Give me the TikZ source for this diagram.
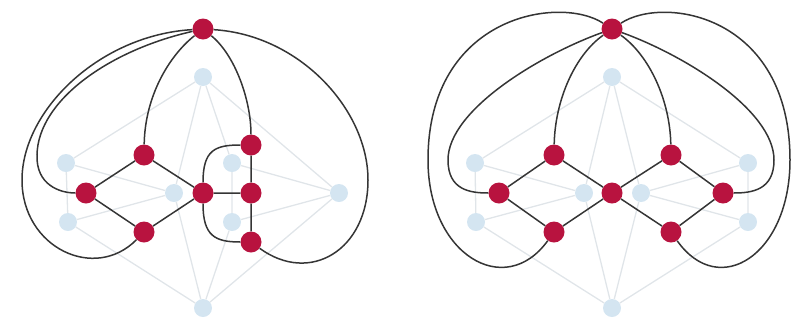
\documentclass[tikz,border=0pt]{standalone}
\begin{document}
\begin{tikzpicture}[x=1pt,y=-1pt,
  rv/.style={circle,fill=crimson,minimum size=21pt,inner sep=0pt},
  bv/.style={circle,fill=paleblue,minimum size=18pt,inner sep=0pt},
  le/.style={draw=lightedge,line width=1.3pt},
  de/.style={draw=darkedge,line width=1.5pt}]
\definecolor{crimson}{HTML}{B8133F}
\definecolor{paleblue}{HTML}{D4E5F1}
\definecolor{lightedge}{HTML}{E0E5E9}
\definecolor{darkedge}{HTML}{353535}
\useasboundingbox (0,0) rectangle (793,325);
% ---------- left: light graph ----------
\node[bv] (ltop) at (203,77) {};
\node[bv] (lbot) at (203,308) {};
\node[bv] (llu) at (66,163) {};
\node[bv] (lll) at (68,222) {};
\node[bv] (lce) at (174,193) {};
\node[bv] (lru) at (232,163) {};
\node[bv] (lrl) at (232,222) {};
\node[bv] (lr) at (339,193) {};
\path[le] (ltop)--(llu) (ltop)--(lce) (ltop)--(lru) (ltop)--(lr)
  (llu)--(lll) (llu)--(lce) (lll)--(lce) (lll)--(lbot) (lce)--(lbot)
  (lru)--(lrl) (lru)--(lr) (lrl)--(lr) (lrl)--(lbot) (lr)--(lbot);
% ---------- left: dual ----------
\node[rv] (lT) at (203,29) {};
\node[rv] (lA) at (144,155) {};
\node[rv] (lB) at (86,193) {};
\node[rv] (lC) at (144,232) {};
\node[rv] (lD) at (203,193) {};
\node[rv] (lE) at (251,145) {};
\node[rv] (lF) at (251,193) {};
\node[rv] (lG) at (251,242) {};
\path[de] (lA)--(lB) (lB)--(lC) (lA)--(lD) (lC)--(lD) (lD)--(lF) (lE)--(lF) (lF)--(lG);
\path[de] (lT) .. controls (170,55) and (145,95) .. (lA);
\path[de] (lT) .. controls (235,55) and (251,100) .. (lE);
\path[de] (lT) .. controls (110,50) and (38,100) .. (37,155) .. controls (36,185) and (60,193) .. (lB);
\path[de] (lT) .. controls (100,35) and (22,110) .. (22,180) .. controls (22,248) and (95,282) .. (lC);
\path[de] (lT) .. controls (300,35) and (368,110) .. (368,180) .. controls (368,250) and (310,285) .. (lG);
\path[de] (lD) .. controls (203,150) and (215,145) .. (lE);
\path[de] (lD) .. controls (203,236) and (215,242) .. (lG);
% ---------- right: light graph ----------
\node[bv] (rtop) at (612,77) {};
\node[bv] (rbot) at (612,308) {};
\node[bv] (rlu) at (475,163) {};
\node[bv] (rll) at (476,222) {};
\node[bv] (rlc) at (584,193) {};
\node[bv] (rru) at (748,163) {};
\node[bv] (rrl) at (748,222) {};
\node[bv] (rrc) at (641,193) {};
\path[le] (rtop)--(rlu) (rtop)--(rlc) (rlu)--(rll) (rlu)--(rlc) (rll)--(rlc)
  (rll)--(rbot) (rlc)--(rbot) (rtop)--(rru) (rtop)--(rrc) (rru)--(rrl)
  (rru)--(rrc) (rrl)--(rrc) (rrl)--(rbot) (rrc)--(rbot);
% ---------- right: dual ----------
\node[rv] (rT) at (612,29) {};
\node[rv] (rA1) at (554,155) {};
\node[rv] (rB1) at (499,193) {};
\node[rv] (rC1) at (554,232) {};
\node[rv] (rD) at (612,193) {};
\node[rv] (rA2) at (671,155) {};
\node[rv] (rB2) at (723,193) {};
\node[rv] (rC2) at (671,232) {};
\path[de] (rA1)--(rB1) (rB1)--(rC1) (rA1)--(rD) (rC1)--(rD)
  (rA2)--(rD) (rC2)--(rD) (rA2)--(rB2) (rB2)--(rC2);
\path[de] (rT) .. controls (575,55) and (555,100) .. (rA1);
\path[de] (rT) .. controls (649,55) and (670,100) .. (rA2);
\path[de] (rT) .. controls (540,55) and (448,110) .. (448,160) .. controls (448,190) and (470,193) .. (rB1);
\path[de] (rT) .. controls (684,55) and (774,110) .. (774,160) .. controls (774,190) and (752,193) .. (rB2);
\path[de] (rT) .. controls (560,-5) and (428,15) .. (428,160) .. controls (428,255) and (505,300) .. (rC1);
\path[de] (rT) .. controls (664,-5) and (790,15) .. (790,160) .. controls (790,255) and (719,300) .. (rC2);
\end{tikzpicture}
\end{document}
